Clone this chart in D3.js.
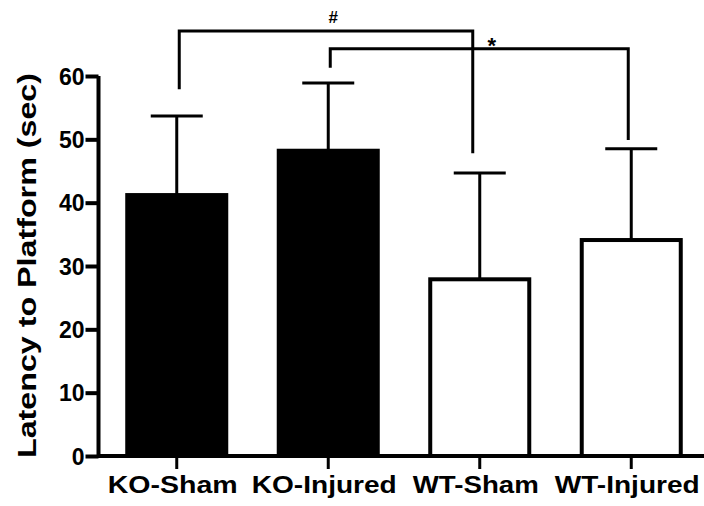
<!DOCTYPE html>
<html>
<head>
<meta charset="utf-8">
<script src="https://cdn.jsdelivr.net/npm/d3@7"></script>
<style>
  html, body { margin: 0; padding: 0; background: #fff; }
  svg { display: block; }
  text { font-family: "Liberation Sans", Arial, sans-serif; fill: #000; }
</style>
</head>
<body>
<svg id="chart" width="704" height="506"></svg>
<script>
// Groups and their mean latency / SD
const groups = ["KO-Sham", "KO-Injured", "WT-Sham", "WT-Injured"];
const means = [41.2, 48.2, 27.9, 34.1];
const sds = [12.5, 10.7, 16.8, 14.4];
const fills = ["#000", "#000", "#fff", "#fff"];
const yTicks = [0, 10, 20, 30, 40, 50, 60];

// Significance brackets
const bracketFrom = ["KO-Sham", "KO-Injured"];
const bracketTo = ["WT-Sham", "WT-Injured"];
const bracketTop = [67.1, 64.3];
const bracketLeftEnd = [57.9, 61.3];
const bracketRightEnd = [47.8, 49.9];
const bracketMarks = ["#", "*"];
const bracketLeftNudge = [2.5, 2];
const bracketRightNudge = [-7, -3];

const svg = d3.select("#chart");

const x = d3.scaleBand()
  .domain(groups)
  .range([101, 707])
  .paddingInner(0.32)
  .paddingOuter(0.16);

const y = d3.scaleLinear().domain([0, 60]).range([456, 76]);

const cx = g => x(g) + x.bandwidth() / 2;

// Bars
svg.append("g").selectAll("rect")
  .data(groups)
  .join("rect")
  .attr("x", d => x(d) + 2)
  .attr("width", x.bandwidth() - 4)
  .attr("y", (d, i) => y(means[i]))
  .attr("height", (d, i) => y(0) - y(means[i]))
  .attr("fill", (d, i) => fills[i])
  .attr("stroke", "#000")
  .attr("stroke-width", 4);

// Error bars (upper only)
const eb = svg.append("g").attr("stroke", "#000").attr("stroke-width", 3);
groups.forEach((g, i) => {
  eb.append("line")
    .attr("x1", cx(g)).attr("x2", cx(g))
    .attr("y1", y(means[i])).attr("y2", y(means[i] + sds[i]));
  eb.append("line")
    .attr("x1", cx(g) - 26).attr("x2", cx(g) + 26)
    .attr("y1", y(means[i] + sds[i])).attr("y2", y(means[i] + sds[i]));
});

// Brackets
const br = svg.append("g");
bracketFrom.forEach((f, i) => {
  const xl = cx(f) + bracketLeftNudge[i];
  const xr = cx(bracketTo[i]) + bracketRightNudge[i];
  br.append("path")
    .attr("d", `M${xl},${y(bracketLeftEnd[i])}V${y(bracketTop[i])}H${xr}V${y(bracketRightEnd[i])}`)
    .attr("fill", "none")
    .attr("stroke", "#000")
    .attr("stroke-width", 3);
});
br.append("text")
  .attr("x", (cx(bracketFrom[0]) + cx(bracketTo[0])) / 2 + 5)
  .attr("y", y(bracketTop[0]) - 8)
  .attr("text-anchor", "middle")
  .attr("font-size", 17)
  .attr("font-weight", "bold")
  .text(bracketMarks[0]);
br.append("text")
  .attr("x", cx(bracketTo[0]) + 12)
  .attr("y", y(bracketTop[1]) + 4)
  .attr("text-anchor", "middle")
  .attr("font-size", 22)
  .attr("font-weight", "bold")
  .text(bracketMarks[1]);

// Y axis
const yAxis = svg.append("g")
  .attr("transform", "translate(98.5,0)")
  .call(d3.axisLeft(y).tickValues(yTicks).tickSize(13).tickPadding(3).tickSizeOuter(0));
yAxis.select(".domain").attr("stroke", "#000").attr("stroke-width", 4).attr("d", `M0,${y(0) + 2}V${y(60)}`);
yAxis.selectAll(".tick line").attr("stroke", "#000").attr("stroke-width", 4);
yAxis.selectAll(".tick text")
  .attr("font-family", "'Liberation Sans', Arial, sans-serif")
  .attr("font-size", 23)
  .attr("font-weight", "bold")
  .attr("fill", "#000")
  .attr("dx", 2)
  .attr("dy", "0.36em");

// X axis
const xAxis = svg.append("g")
  .attr("transform", `translate(0,${y(0)})`)
  .call(d3.axisBottom(x).tickSize(13).tickPadding(6).tickSizeOuter(0));
xAxis.select(".domain").attr("stroke", "#000").attr("stroke-width", 4).attr("d", "M97,0H704");
xAxis.selectAll(".tick line").attr("stroke", "#000").attr("stroke-width", 3);
const xLabelWidths = [130, 145, 126, 145];
xAxis.selectAll(".tick text")
  .attr("font-family", "'Liberation Sans', Arial, sans-serif")
  .attr("font-size", 23)
  .attr("font-weight", "bold")
  .attr("fill", "#000")
  .attr("dy", "0.8em")
  .attr("dx", -4)
  .attr("textLength", (d, i) => xLabelWidths[i])
  .attr("lengthAdjust", "spacingAndGlyphs");

// Y axis title
svg.append("text")
  .attr("transform", `translate(36,${(458 + 73) / 2}) rotate(-90)`)
  .attr("text-anchor", "middle")
  .attr("font-size", 26)
  .attr("font-weight", "bold")
  .attr("textLength", 385)
  .attr("lengthAdjust", "spacingAndGlyphs")
  .text("Latency to  Platform (sec)");
</script>
</body>
</html>
